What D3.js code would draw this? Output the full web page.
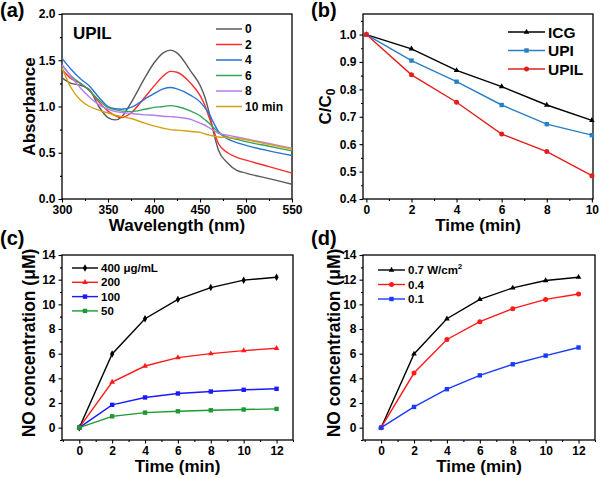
<!DOCTYPE html>
<html><head><meta charset="utf-8">
<script src="https://cdn.jsdelivr.net/npm/d3@7"></script>
<style>body{margin:0;background:#fff}svg{font-family:"Liberation Sans",Arial,sans-serif;font-weight:bold}</style>
</head><body><svg id="c" width="600" height="478"></svg>
<script>
// ---- Panel (a) data: absorbance spectra ----
const wavelengths = [300,310,320,330,340,350,358,365,375,390,400,410,418,425,440,450,455,460,465,470,480,490,500,525,550];
const spec0  = [1.31,1.25,1.23,1.18,1.00,0.88,0.855,0.89,1.04,1.31,1.47,1.58,1.61,1.58,1.38,1.23,1.11,0.93,0.71,0.53,0.39,0.31,0.28,0.22,0.16];
const spec2  = [1.40,1.30,1.25,1.17,1.05,0.95,0.90,0.88,0.93,1.10,1.22,1.33,1.38,1.37,1.25,1.12,1.02,0.88,0.74,0.60,0.50,0.45,0.42,0.35,0.28];
const spec4  = [1.52,1.40,1.30,1.22,1.10,1.00,0.975,0.97,0.99,1.08,1.14,1.19,1.205,1.19,1.12,1.05,0.99,0.92,0.82,0.73,0.65,0.61,0.58,0.52,0.47];
const spec6  = [1.45,1.33,1.25,1.17,1.07,0.99,0.965,0.95,0.945,0.97,0.99,1.00,1.01,1.00,0.95,0.90,0.86,0.82,0.77,0.72,0.67,0.645,0.62,0.57,0.52];
const spec8  = [1.45,1.32,1.20,1.10,1.02,0.97,0.945,0.935,0.925,0.91,0.905,0.895,0.89,0.885,0.86,0.82,0.80,0.77,0.74,0.71,0.69,0.67,0.65,0.60,0.55];
const spec10 = [1.42,1.20,1.07,1.00,0.96,0.93,0.905,0.89,0.87,0.82,0.79,0.765,0.75,0.745,0.73,0.72,0.705,0.69,0.68,0.67,0.665,0.655,0.64,0.59,0.54];
const specLabels = ["0","2","4","6","8","10 min"];
const specColors = ["#5a5a5a","#ff2b2b","#2a72d4","#34a35c","#b47ef0","#d6a012"];

// ---- Panel (b) data ----
const timeB = [0,2,4,6,8,10];
const icg  = [1.0,0.948,0.869,0.81,0.743,0.687];
const upi  = [1.0,0.905,0.828,0.743,0.673,0.633];
const upil = [1.0,0.853,0.753,0.637,0.573,0.485];
const seriesB = ["ICG","UPI","UPIL"];

// ---- Panel (c) data ----
const timeCD = [0,2,4,6,8,10,12];
const c400 = [0,5.98,8.83,10.4,11.36,11.96,12.2];
const c200 = [0,3.7,5.0,5.68,6.0,6.25,6.44];
const c100 = [0,1.85,2.45,2.77,2.93,3.07,3.15];
const c50  = [0,0.92,1.22,1.33,1.41,1.47,1.52];
const seriesC = ["400 μg/mL","200","100","50"];

// ---- Panel (d) data ----
const p07 = [0,5.98,8.83,10.4,11.33,11.93,12.2];
const p04 = [0,4.43,7.15,8.59,9.65,10.4,10.84];
const p01 = [0,1.68,3.12,4.24,5.14,5.84,6.5];
const seriesD = ["0.7 W/cm","0.4","0.1"];

const svg = d3.select("#c");
const TF = 12;

function panel(o){
  const g = svg.append("g");
  const x = d3.scaleLinear().domain(o.xd).range([o.l,o.r]);
  const y = d3.scaleLinear().domain(o.yd).range([o.b,o.t]);
  const xa = d3.axisBottom(x).tickValues(o.xminor).tickSize(2).tickFormat("");
  g.append("g").attr("transform",`translate(0,${o.b})`).call(xa).call(s=>s.select(".domain").remove());
  const ya = d3.axisLeft(y).tickValues(o.yminor).tickSize(2).tickFormat("");
  g.append("g").attr("transform",`translate(${o.l},0)`).call(ya).call(s=>s.select(".domain").remove());
  const xA = d3.axisBottom(x).tickValues(o.xt).tickSize(3.5).tickPadding(2.5).tickFormat(o.xf||d3.format("d"));
  const gx = g.append("g").attr("transform",`translate(0,${o.b})`).call(xA);
  gx.select(".domain").remove();
  gx.selectAll("text").attr("font-size",TF).attr("font-family","Liberation Sans,Arial").attr("font-weight","bold").attr("fill","#000");
  const yA = d3.axisLeft(y).tickValues(o.yt).tickSize(3.5).tickPadding(3).tickFormat(o.yf||d3.format("d"));
  const gy = g.append("g").attr("transform",`translate(${o.l},0)`).call(yA);
  gy.select(".domain").remove();
  gy.selectAll("text").attr("font-size",TF).attr("font-family","Liberation Sans,Arial").attr("font-weight","bold").attr("fill","#000");
  g.selectAll(".tick line").attr("stroke","#000").attr("stroke-width",1.1);
  g.append("rect").attr("x",o.l).attr("y",o.t).attr("width",o.r-o.l).attr("height",o.b-o.t)
    .attr("fill","none").attr("stroke","#000").attr("stroke-width",1.3);
  g.append("text").attr("x",(o.l+o.r)/2).attr("y",o.b+32).attr("text-anchor","middle").attr("font-size",17).text(o.xl);
  const yt = g.append("text").attr("transform",`translate(${o.ylx},${o.ylc||(o.t+o.b)/2}) rotate(-90)`).attr("text-anchor","middle").attr("font-size",o.yls||17);
  if(o.ylsub){ yt.text(o.yl); yt.append("tspan").attr("font-size",12).attr("dy",4).text(o.ylsub); }
  else yt.text(o.yl);
  g.append("text").attr("x",o.px).attr("y",o.py).attr("font-size",20).text(o.panel);
  return {g,x,y};
}
const range=(a,b,s)=>d3.range(a,b+1e-9,s);

// (a)
{
  const P = panel({l:62,r:292,t:14,b:199,xd:[300,550],yd:[0,2.0],xt:range(300,550,50),xminor:range(325,525,50),
    yt:range(0,2,0.5),yminor:range(0.25,1.75,0.5),yf:d3.format(".1f"),xl:"Wavelength (nm)",yl:"Absorbance",ylx:35,panel:"(a)",px:0,py:17});
  const specs=[spec0,spec2,spec4,spec6,spec8,spec10];
  const line=d3.line().curve(d3.curveMonotoneX);
  specs.forEach((s,i)=>{
    P.g.append("path").attr("d",line(wavelengths.map((w,j)=>[P.x(w),P.y(s[j])]))).attr("fill","none").attr("stroke",specColors[i]).attr("stroke-width",1.4);
  });
  specLabels.forEach((lab,i)=>{
    const yy=29+i*15.5;
    P.g.append("line").attr("x1",216).attr("x2",242).attr("y1",yy).attr("y2",yy).attr("stroke",specColors[i]).attr("stroke-width",1.5);
    P.g.append("text").attr("x",245).attr("y",yy+4.3).attr("font-size",12).text(lab);
  });
  P.g.append("text").attr("x",73).attr("y",39).attr("font-size",17).text("UPIL");
}
function marker(g,type,cx,cy,color){
  if(type==="tri") g.append("path").attr("d",d3.symbol(d3.symbolTriangle,14)()).attr("transform",`translate(${cx},${cy})`).attr("fill",color);
  else if(type==="sq") g.append("rect").attr("x",cx-2.2).attr("y",cy-2.2).attr("width",4.4).attr("height",4.4).attr("fill",color);
  else if(type==="circ") g.append("circle").attr("cx",cx).attr("cy",cy).attr("r",2.5).attr("fill",color);
  else if(type==="dia") g.append("path").attr("d",d3.symbol(d3.symbolDiamond,16)()).attr("transform",`translate(${cx},${cy})`).attr("fill",color);
}
function series(P,xs,ys,color,type){
  P.g.append("path").attr("d",d3.line()(xs.map((v,i)=>[P.x(v),P.y(ys[i])]))).attr("fill","none").attr("stroke",color).attr("stroke-width",1.4);
  xs.forEach((v,i)=>marker(P.g,type,P.x(v),P.y(ys[i]),color));
}
function legend(P,labels,colors,types,x1,x2,y0,dy,fs){
  labels.forEach((lab,i)=>{
    const yy=y0+i*dy;
    P.g.append("line").attr("x1",x1).attr("x2",x2).attr("y1",yy).attr("y2",yy).attr("stroke",colors[i]).attr("stroke-width",1.4);
    marker(P.g,types[i],(x1+x2)/2,yy,colors[i]);
    P.g.append("text").attr("x",x2+3).attr("y",yy+fs*0.36).attr("font-size",fs).text(lab);
  });
}
// (b)
{
  const P = panel({l:363,r:593,t:14,b:199,xd:[-0.15,10.05],yd:[0.4,1.075],xt:range(0,10,2),xminor:range(1,9,2),
    yt:range(0.4,1.0,0.1),yminor:range(0.45,1.05,0.1),yf:d3.format(".1f"),xl:"Time (min)",yl:"C/C",ylsub:"0",ylx:331,panel:"(b)",px:311,py:17});
  const cols=["#000000","#2a7fc4","#e0201e"], types=["tri","sq","circ"];
  [icg,upi,upil].forEach((s,i)=>series(P,timeB,s,cols[i],types[i]));
  legend(P,seriesB,cols,types,508,545,32,18.5,15.5);
}
// (c)
{
  const P = panel({l:62,r:293,t:255,b:440,xd:[-1.05,13],yd:[-1,14],xt:range(0,12,2),xminor:range(-1,13,2),
    yt:range(0,14,2),yminor:range(-1,13,2),xl:"Time (min)",yl:"NO concentration (μM)",yls:17.5,ylx:35,ylc:343,panel:"(c)",px:0,py:245});
  const cols=["#000000","#ff1a1a","#1a1aff","#1a9a30"], types=["dia","tri","sq","sq"];
  [c400,c200,c100,c50].forEach((s,i)=>series(P,timeCD,s,cols[i],types[i]));
  legend(P,seriesC,cols,types,72,98,268,14.3,11.5);
}
// (d)
{
  const P = panel({l:363,r:595,t:255,b:440,xd:[-1.1,13],yd:[-1,14],xt:range(0,12,2),xminor:range(-1,13,2),
    yt:range(0,14,2),yminor:range(-1,13,2),xl:"Time (min)",yl:"NO concentration (μM)",yls:17.5,ylx:340,ylc:343,panel:"(d)",px:311,py:245});
  const cols=["#000000","#ff1a1a","#1a3aff"], types=["tri","circ","sq"];
  [p07,p04,p01].forEach((s,i)=>series(P,timeCD,s,cols[i],types[i]));
  legend(P,seriesD,cols,types,378,405,270,14.5,11.5);
  const t = P.g.selectAll("text").filter(function(){return d3.select(this).text()==="0.7 W/cm";});
  t.append("tspan").attr("font-size",8).attr("dy",-5).text("2");
}
</script></body></html>
